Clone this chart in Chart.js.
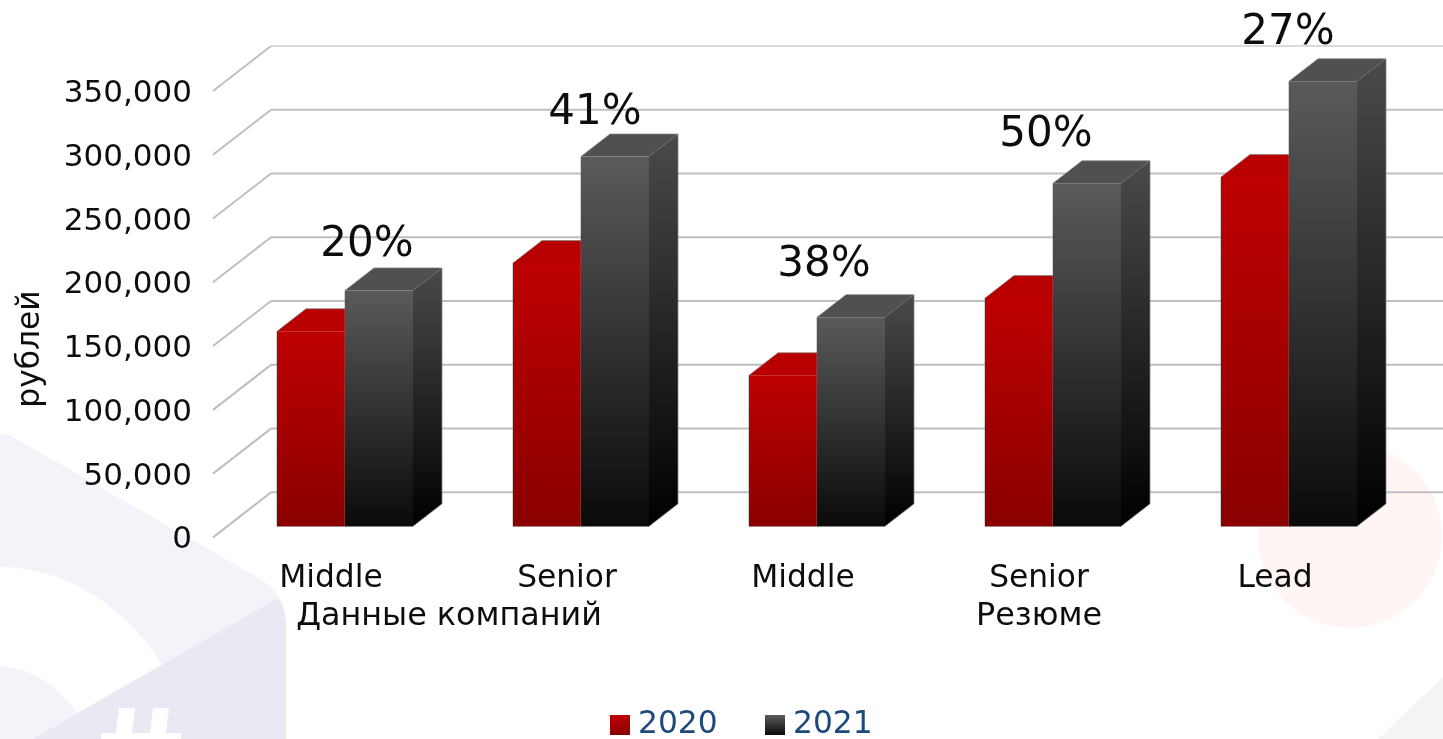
<!DOCTYPE html>
<html><head><meta charset="utf-8">
<style>html,body{margin:0;padding:0;background:#fff;overflow:hidden}#w{position:relative;width:1443px;height:739px}</style>
<script src="https://cdn.jsdelivr.net/npm/chart.js@4"></script>
</head><body><div id="w"><canvas id="c" width="1443" height="739"></canvas></div>
<script>
const categories = ['Middle','Senior','Middle','Senior','Lead'];
const groupNames = ['Данные компаний','Резюме'];
const groupSpans = [[0,1],[2,4]];
const values2020 = [153000,206500,118500,179000,274000];
const values2021 = [185000,290000,164000,269000,349000];
const growthLabels = ['20%','41%','38%','50%','27%'];
const seriesNames = ['2020','2021'];
const labelNudgeX = [-12,-20,-27,-41,-35];
const labelNudgeY = [-45,-43,-52,-48,-48];
const TEXT='#0d0d0d', FONT='"DejaVu Sans"', FS=31.3;
const DEPTH={x:58,y:45};           // floor depth
const BAR_DEPTH={x:29,y:22.5};     // column depth
const BAR_SHIFT={x:14,y:-11};      // columns stand in the middle of the floor
const PAL=[
 {front:['#be0000','#8a0000'],side:['#a80000','#600000'],top:'#b80000'},
 {front:['#5a5a5a','#0a0a0a'],side:['#4a4a4a','#000000'],top:'#505050'}
];
function swatch(p){
  const s=document.createElement('canvas');s.width=20;s.height=20;
  const x=s.getContext('2d'),g=x.createLinearGradient(0,0,0,20);
  g.addColorStop(0,p.front[0]);g.addColorStop(1,p.front[1]);
  x.fillStyle=g;x.fillRect(0,0,20,20);return s;
}
function frontFill(i){return ctx=>{
  const ch=ctx.chart,y=ch.scales.y;
  if(!y||ctx.parsed==null)return PAL[i].front[0];
  const a=y.getPixelForValue(ctx.parsed.y),b=y.getPixelForValue(0);
  if(!isFinite(a)||!isFinite(b))return PAL[i].front[0];
  const g=ch.ctx.createLinearGradient(0,a,0,b);
  g.addColorStop(0,PAL[i].front[0]);g.addColorStop(1,PAL[i].front[1]);return g;
};}
const backdrop={id:'backdrop',beforeDraw(ch){
  const c=ch.ctx;c.save();
  c.fillStyle='#fff';c.fillRect(0,0,1443,739);
  c.fillStyle='#f6f2fa';c.beginPath();c.moveTo(0,433);c.quadraticCurveTo(8,434,20,441);
  c.lineTo(262,580);c.quadraticCurveTo(286,596,286,625);c.lineTo(286,739);c.lineTo(0,739);c.closePath();c.fill();
  c.fillStyle='#fff';c.beginPath();c.moveTo(0,567);c.bezierCurveTo(65,567,125,605,162,665);c.lineTo(77,713);
  c.bezierCurveTo(58,685,30,668,0,666);c.closePath();c.fill();
  c.fillStyle='#ebe8f4';c.beginPath();c.moveTo(278,598);c.quadraticCurveTo(286,610,286,625);c.lineTo(286,739);c.lineTo(33,739);c.closePath();c.fill();
  c.fillStyle='#fff';
  [[119,135],[153,169]].forEach(([a,b])=>{c.beginPath();c.moveTo(a,708);c.lineTo(b,708);c.lineTo(b-4,739);c.lineTo(a-4,739);c.closePath();c.fill();});
  c.fillRect(101,733,80,6);
  c.fillStyle='#fff5f3';c.beginPath();c.arc(1350,536,92,0,Math.PI*2);c.fill();
  c.fillStyle='#f4f4f4';c.beginPath();c.moveTo(1378,739);c.lineTo(1443,677);c.lineTo(1443,739);c.closePath();c.fill();
  c.restore();
}};
const walls={id:'walls',beforeDatasetsDraw(ch){
  const c=ch.ctx,s=ch.scales.y,a=ch.chartArea;c.save();
  s.ticks.forEach((t,i)=>{const y=s.getPixelForValue(t.value);
    const top=i===s.ticks.length-1;
    c.strokeStyle='#bfbfbf';c.lineWidth=2;
    c.beginPath();c.moveTo(a.left,y);c.lineTo(a.left+DEPTH.x,y-DEPTH.y);c.stroke();
    c.lineWidth=top?1:2;c.strokeStyle=top?'#b5b5b5':'#bfbfbf';
    c.beginPath();c.moveTo(a.left+DEPTH.x,y-DEPTH.y);c.lineTo(ch.width,y-DEPTH.y);c.stroke();});
  c.restore();
}};
function drawColumn(ch,idx){
  const c=ch.ctx,meta=ch.getDatasetMeta(idx),p=PAL[idx];
  c.save();c.translate(BAR_SHIFT.x,BAR_SHIFT.y);
  meta.data.forEach(el=>{
    const {x,y,base,width}=el.getProps(['x','y','base','width'],true);
    const L=x-width/2,R=x+width/2,dx=BAR_DEPTH.x,dy=BAR_DEPTH.y;
    c.fillStyle=p.top;c.beginPath();c.moveTo(L,y);c.lineTo(L+dx,y-dy);c.lineTo(R+dx,y-dy);c.lineTo(R,y);c.closePath();c.fill();
    const g=c.createLinearGradient(0,y-dy,0,base);g.addColorStop(0,p.side[0]);g.addColorStop(1,p.side[1]);
    c.fillStyle=g;c.beginPath();c.moveTo(R,y);c.lineTo(R+dx,y-dy);c.lineTo(R+dx,base-dy);c.lineTo(R,base);c.closePath();c.fill();
    c.strokeStyle='rgba(130,130,130,.7)';c.lineWidth=1;c.beginPath();
    c.moveTo(L,base);c.lineTo(L,y);c.lineTo(L+dx,y-dy);c.lineTo(R+dx,y-dy);c.lineTo(R+dx,base-dy);c.lineTo(R,base);c.lineTo(L,base);c.stroke();
  });
  meta.controller.draw();
  c.restore();
}
const bars3d={id:'bars3d',
  beforeDatasetsDraw(ch){ drawColumn(ch,0); drawColumn(ch,1); },
  beforeDatasetDraw(){ return false; },
  afterDatasetsDraw(ch){
    const c=ch.ctx,m=ch.getDatasetMeta(1),x=ch.scales.x;c.save();
    c.fillStyle=TEXT;c.textAlign='center';c.textBaseline='middle';
    c.font='42px '+FONT;
    m.data.forEach((el,i)=>{
      c.fillText(growthLabels[i],el.x+BAR_SHIFT.x+labelNudgeX[i],el.y+BAR_SHIFT.y+labelNudgeY[i]);
    });
    c.font='31.8px '+FONT;
    groupNames.forEach((n,i)=>{
      const [a,b]=groupSpans[i];
      c.fillText(n,(x.getPixelForValue(a)+x.getPixelForValue(b))/2,616.5);
    });
    c.font=FS+'px '+FONT;
    c.translate(31,349);c.rotate(-Math.PI/2);c.fillText('рублей',0,0);
    c.restore();
  }
};
const LEGEND_PAD=55.05, LEGEND_BOX=4.7;
const legendShift={id:'legendShift',afterLayout(ch){
  const l=ch.legend;
  const d=617.65-(l.left+(LEGEND_PAD+l.width-l.lineWidths[0])/2);l.left+=d;l.right+=d;
  l.top+=12;l.bottom+=12;
}};
new Chart(document.getElementById('c'),{
  type:'bar',
  data:{labels:categories,datasets:[
    {label:seriesNames[0],data:values2020,backgroundColor:frontFill(0)},
    {label:seriesNames[1],data:values2021,backgroundColor:frontFill(1)}
  ]},
  plugins:[backdrop,walls,bars3d,legendShift],
  options:{
    responsive:false,animation:false,
    layout:{padding:{top:91,right:50,left:0,bottom:0}},
    datasets:{bar:{categoryPercentage:136/236,barPercentage:1,borderWidth:0,clip:false}},
    scales:{
      x:{grid:{display:false,drawTicks:false},border:{display:false},
        ticks:{color:TEXT,font:{family:FONT,size:FS},padding:22.5,maxRotation:0,autoSkip:false},
        afterFit(s){s.height=105.28;}},
      y:{min:0,max:350000,grid:{display:false,drawTicks:false},border:{display:false},
        ticks:{stepSize:50000,color:TEXT,font:{family:FONT,size:31},padding:21,labelOffset:3},
        afterFit(s){s.width=213;}}
    },
    plugins:{
      tooltip:{enabled:false},
      legend:{position:'bottom',
        labels:{color:'#1f497d',font:{family:FONT,size:FS,lineHeight:1},usePointStyle:true,pointStyleWidth:LEGEND_BOX,padding:LEGEND_PAD,
          generateLabels(ch){
            return Chart.defaults.plugins.legend.labels.generateLabels(ch)
              .map(it=>Object.assign(it,{pointStyle:swatch(PAL[it.datasetIndex]),fontColor:'#1f497d'}));
          }}}
    }
  }
});
</script></body></html>
